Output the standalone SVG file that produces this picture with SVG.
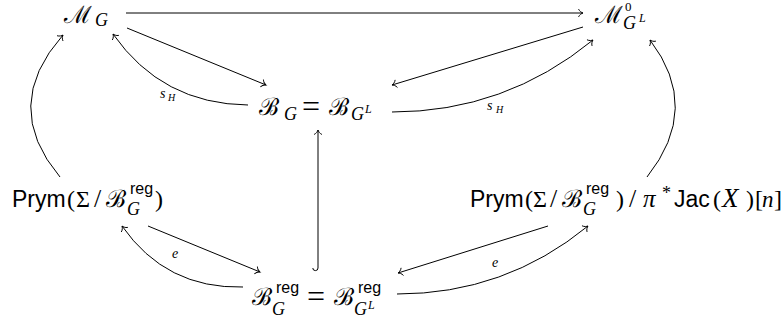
<svg xmlns="http://www.w3.org/2000/svg" width="783" height="320" viewBox="0 0 783 320">
<defs>
<marker id="to" viewBox="-6 -5 8 10" refX="0" refY="0" markerWidth="8" markerHeight="10" markerUnits="userSpaceOnUse" orient="auto">
<path d="M-4.5,-4 C-3.5,-1.5 -1,-0.3 0,0 C-1,0.3 -3.5,1.5 -4.5,4" fill="none" stroke="#000" stroke-width="0.9"/>
</marker>
</defs>
<style>
text { fill: #000; }
.cal { font-family: "DejaVu Serif", serif; font-size: 24px; }
.rm { font-family: "Liberation Serif", serif; font-size: 24px; }
.it { font-family: "Liberation Serif", serif; font-style: italic; }
.sf { font-family: "Liberation Sans", sans-serif; }
.main { font-size: 23px; }
.mi { font-size: 25px; }
.sub { font-size: 18px; }
.sup { font-size: 16px; }
.subsub { font-size: 12px; }
.eq { font-family: "Liberation Serif", serif; font-size: 32px; }
.lbl { font-size: 14px; }
.lsub { font-size: 10px; }
.c { fill: none; stroke: #000; stroke-width: 1; }
</style>
<g id="connectors">
<path class="c" d="M126,13 L583,13" marker-end="url(#to)"/>
<path class="c" d="M127,28 L266,85" marker-end="url(#to)"/>
<path class="c" d="M248,105 Q162,104 113,34" marker-end="url(#to)"/>
<path class="c" d="M583,27 L392,85" marker-end="url(#to)"/>
<path class="c" d="M392,112 Q505,112 593,40" marker-end="url(#to)"/>
<path class="c" d="M60,177 Q0,106 63,35" marker-end="url(#to)"/>
<path class="c" d="M647,177 Q702,108 650,40" marker-end="url(#to)"/>
<path class="c" d="M318,268 L318,130" marker-end="url(#to)"/>
<path class="c" d="M318,268 A2.6,2.6 0 0 1 312.8,268"/>
<path class="c" d="M148,226 L260,272" marker-end="url(#to)"/>
<path class="c" d="M243,287 Q166,289 122,226" marker-end="url(#to)"/>
<path class="c" d="M548,226 L398,273" marker-end="url(#to)"/>
<path class="c" d="M397,294 Q505,294 588,226" marker-end="url(#to)"/>
<text class="it lbl" x="160" y="98">s</text><text class="it lsub" x="168" y="101">H</text>
<text class="it lbl" x="487" y="110">s</text><text class="it lsub" x="496" y="113">H</text>
<text class="it lbl" x="172" y="258">e</text>
<text class="it lbl" x="492" y="267">e</text>
</g>
<g id="n-MG">
<text class="cal" x="64" y="23">ℳ</text>
<text class="it sub" x="95" y="26">G</text>
</g>
<g id="n-M0">
<text class="cal" x="595" y="23">ℳ</text>
<text class="rm" style="font-size:13px" x="625" y="11">0</text>
<text class="it sub" x="623" y="29">G</text>
<text class="it subsub" x="639" y="22">L</text>
</g>
<g id="n-B">
<text class="cal" x="259" y="115">ℬ</text>
<text class="it sub" x="284" y="120">G</text>
<text class="eq" x="302" y="117">=</text>
<text class="cal" x="329" y="115">ℬ</text>
<text class="it sub" x="351" y="120">G</text>
<text class="it subsub" x="365" y="113">L</text>
</g>
<g id="n-Prym">
<text class="sf main" x="12" y="207">Prym</text>
<text class="rm" x="67" y="207">(</text>
<text class="rm" x="76" y="207">Σ</text>
<text class="rm" style="font-size:26px" x="94" y="207">/</text>
<text class="cal" x="106" y="207">ℬ</text>
<text class="sf sup" x="130" y="194">reg</text>
<text class="it sub" x="127" y="215">G</text>
<text class="rm" x="155" y="207">)</text>
</g>
<g id="n-PrymJac">
<text class="sf main" x="470" y="207">Prym</text>
<text class="rm" x="525" y="207">(</text>
<text class="rm" x="533" y="207">Σ</text>
<text class="rm" style="font-size:26px" x="550" y="207">/</text>
<text class="cal" x="562" y="207">ℬ</text>
<text class="sf sup" x="586" y="194">reg</text>
<text class="it sub" x="583" y="215">G</text>
<text class="rm" x="616" y="207">)</text>
<text class="rm" style="font-size:26px" x="629" y="207">/</text>
<text class="it mi" x="643" y="207">π</text>
<text class="rm" style="font-size:18px" x="662" y="199">*</text>
<text class="sf main" x="674" y="207">Jac</text>
<text class="rm" x="713" y="207">(</text>
<text class="it" style="font-size:27px" x="722" y="207">X</text>
<text class="rm" x="746" y="207">)</text>
<text class="rm" x="755" y="207">[</text>
<text class="it main" x="762" y="207">n</text>
<text class="rm" x="774" y="207">]</text>
</g>
<g id="n-Breg">
<text class="cal" x="252" y="305">ℬ</text>
<text class="sf sup" x="276" y="293">reg</text>
<text class="it sub" x="272" y="315">G</text>
<text class="eq" x="307" y="307">=</text>
<text class="cal" x="334" y="305">ℬ</text>
<text class="sf sup" x="358" y="293">reg</text>
<text class="it sub" x="354" y="315">G</text>
<text class="it subsub" x="368" y="309">L</text>
</g>
</svg>
